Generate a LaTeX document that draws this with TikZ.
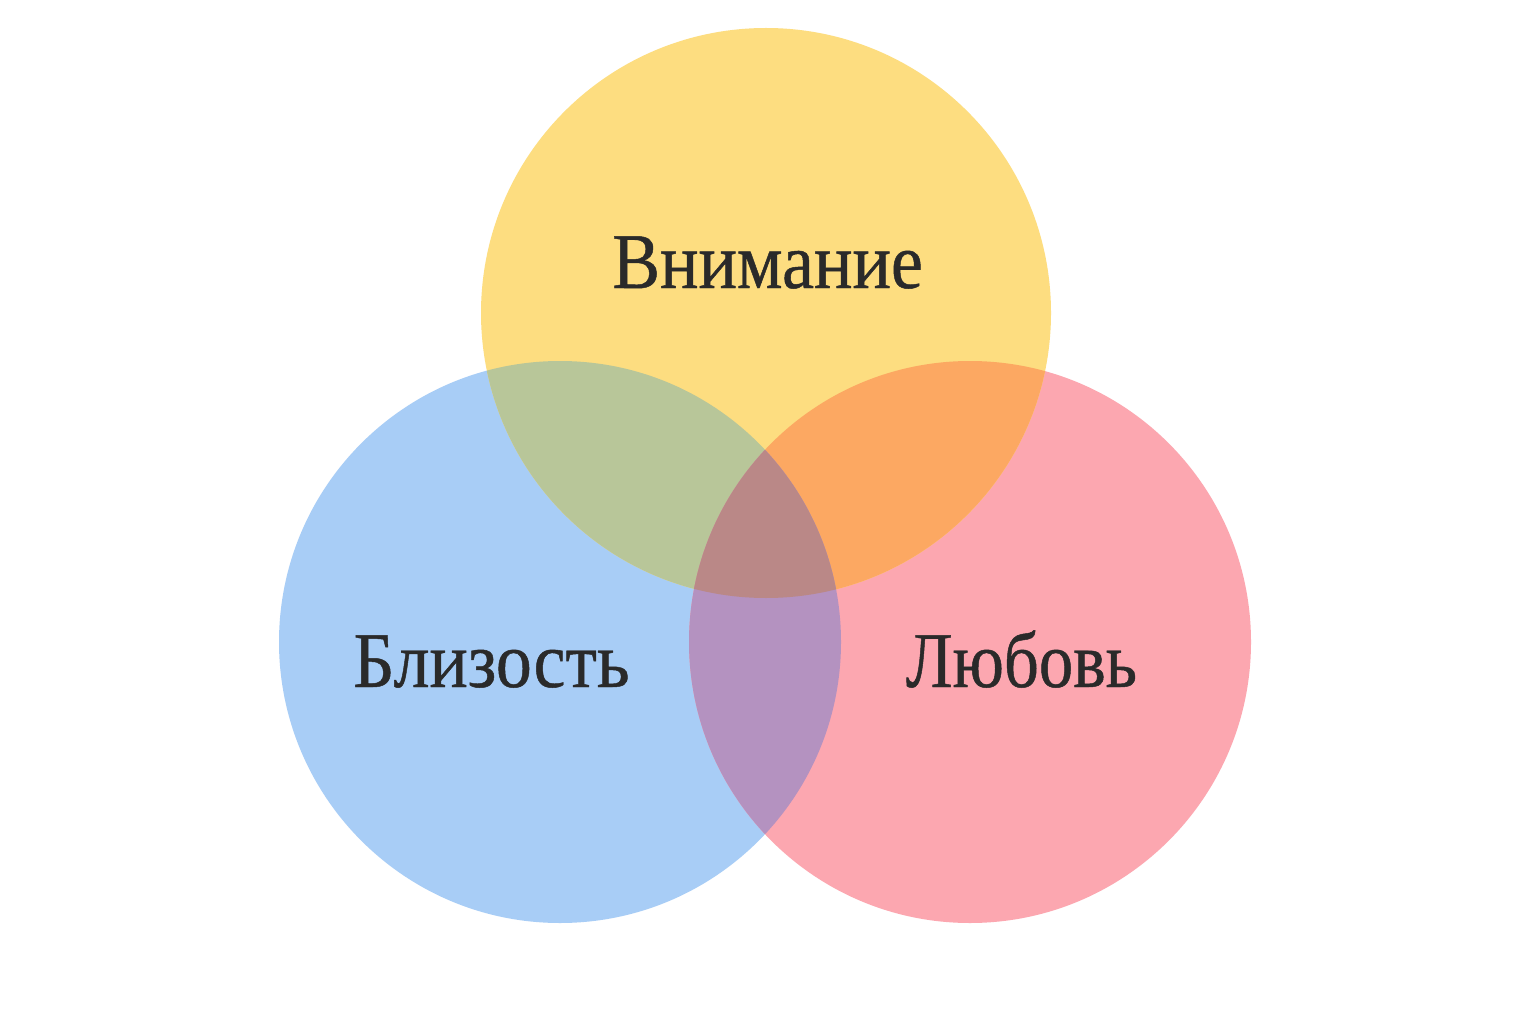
\documentclass[tikz,border=0pt]{standalone}
\usepackage{fontspec}
\setmainfont{Liberation Serif}
\newfontfamily\lblfont[FakeStretch=0.91,FakeBold=0.6]{Liberation Serif}
\newfontfamily\lblfontn[FakeStretch=0.87,FakeBold=0.6]{Liberation Serif}
\definecolor{cyel}{RGB}{253,221,128}
\definecolor{cblue}{RGB}{168,205,246}
\definecolor{cpink}{RGB}{252,167,176}
\definecolor{cgreen}{RGB}{184,198,153}
\definecolor{corange}{RGB}{252,168,98}
\definecolor{cpurple}{RGB}{180,146,192}
\definecolor{ccenter}{RGB}{186,136,135}
\definecolor{ctext}{RGB}{42,42,42}
\tikzset{lbl/.style={text=ctext,font=\lblfont\fontsize{79}{88}\selectfont,inner sep=0pt,anchor=base}}
\begin{document}
\begin{tikzpicture}[x=1pt,y=-1pt]
\useasboundingbox (0,0) rectangle (1536,1024);
\fill[white] (0,0) rectangle (1536,1024);
\def\cY{(766,313) circle[radius=285]}
\def\cB{(560,642) circle[radius=281]}
\def\cP{(970,642) circle[radius=281]}
\fill[cblue] \cB;
\fill[cpink] \cP;
\fill[cyel] \cY;
\begin{scope}\clip \cB; \fill[cgreen] \cY; \end{scope}
\begin{scope}\clip \cP; \fill[corange] \cY; \end{scope}
\begin{scope}\clip \cB; \fill[cpurple] \cP; \end{scope}
\begin{scope}\clip \cB; \clip \cP; \fill[ccenter] \cY; \end{scope}
\node[lbl] (v) at (767.5,288) {Внимание};
\node[lbl] (b) at (491.5,687) {Близость};
\node[lbl,font=\lblfontn\fontsize{79}{88}\selectfont] (l) at (1021.5,687) {Любовь};
\end{tikzpicture}
\end{document}
